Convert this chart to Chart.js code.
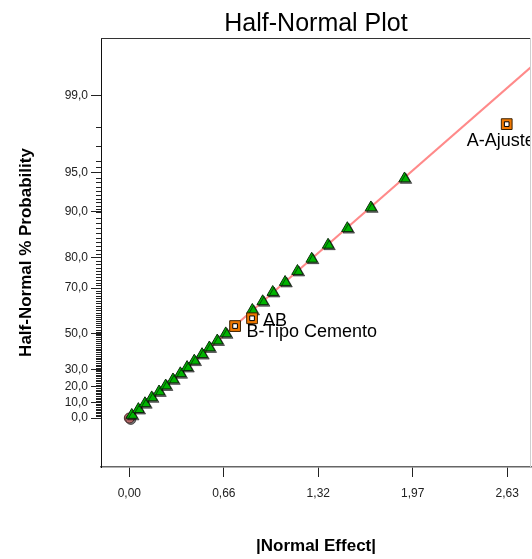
<!DOCTYPE html>
<html>
<head>
<meta charset="utf-8">
<script src="https://cdn.jsdelivr.net/npm/chart.js@4.4.1/dist/chart.umd.min.js"></script>
<style>
  html, body { margin: 0; padding: 0; background: #fff; }
  #wrap { width: 532px; height: 559px; }
</style>
</head>
<body>
<div id="wrap"><canvas id="c" width="532" height="559"></canvas></div>
<script>
// ---------- DATA ----------
// error terms (green triangles): |normal effect| and half-normal % probability
const errorX = [0.017, 0.063, 0.109, 0.156, 0.207, 0.253, 0.304, 0.355, 0.402, 0.452, 0.506, 0.557, 0.612, 0.671,
                0.856, 0.928, 0.998, 1.084, 1.170, 1.269, 1.383, 1.517, 1.681, 1.915];
const errorP = [1.9, 5.6, 9.3, 13.0, 16.7, 20.4, 24.1, 27.8, 31.5, 35.2, 38.9, 42.6, 46.3, 50.0,
                61.1, 64.8, 68.5, 72.2, 75.9, 79.6, 83.3, 87.0, 90.7, 94.4];
// model terms (orange squares)
const modelTerms = ['A-Ajuste', 'B-Tipo Cemento', 'AB'];
const modelX = [2.626, 0.736, 0.854];
const modelP = [98.1, 53.7, 57.4];
// zero point (circle)
const zeroX = [0];
const zeroP = [0];
// fitted half-normal line
const fitLineX = [0, 2.795];
const fitLineP = [0, 99.49];
// axis ticks
const xTickValues = [0, 0.6575, 1.315, 1.9725, 2.63];
const xTickLabels = ['0,00', '0,66', '1,32', '1,97', '2,63'];
const yTickValues = [0, 10, 20, 30, 50, 70, 80, 90, 95, 99];
const yTickLabels = ['0,0', '10,0', '20,0', '30,0', '50,0', '70,0', '80,0', '90,0', '95,0', '99,0'];
const yMinorValues = [];
for (let v = 0; v <= 90; v += 1) yMinorValues.push(v);
for (let v = 90.5; v <= 96; v += 0.5) yMinorValues.push(v);
yMinorValues.push(97, 98);

// ---------- half-normal probability transform ----------
function probit(p) {
  const a = [-3.969683028665376e+01, 2.209460984245205e+02, -2.759285104469687e+02, 1.383577518672690e+02, -3.066479806614716e+01, 2.506628277459239e+00];
  const b = [-5.447609879822406e+01, 1.615858368580409e+02, -1.556989798598866e+02, 6.680131188771972e+01, -1.328068155288572e+01];
  const c = [-7.784894002430293e-03, -3.223964580411365e-01, -2.400758277161838e+00, -2.549732539343734e+00, 4.374664141464968e+00, 2.938163982698783e+00];
  const d = [7.784695709041462e-03, 3.224671290700398e-01, 2.445134137142996e+00, 3.754408360539144e+00];
  const pl = 0.02425, ph = 1 - pl;
  let q, r;
  if (p < pl) {
    q = Math.sqrt(-2 * Math.log(p));
    return (((((c[0]*q+c[1])*q+c[2])*q+c[3])*q+c[4])*q+c[5]) / ((((d[0]*q+d[1])*q+d[2])*q+d[3])*q+1);
  }
  if (p <= ph) {
    q = p - 0.5; r = q * q;
    return (((((a[0]*r+a[1])*r+a[2])*r+a[3])*r+a[4])*r+a[5])*q / (((((b[0]*r+b[1])*r+b[2])*r+b[3])*r+b[4])*r+1);
  }
  q = Math.sqrt(-2 * Math.log(1 - p));
  return -(((((c[0]*q+c[1])*q+c[2])*q+c[3])*q+c[4])*q+c[5]) / ((((d[0]*q+d[1])*q+d[2])*q+d[3])*q+1);
}
function hnz(pct) { return probit(0.5 + pct / 200); }
function pts(xs, ps) { return xs.map((x, i) => ({ x: x, y: hnz(ps[i]) })); }

// ---------- styles ----------
const FONT = '"Liberation Sans", Arial, sans-serif';
const labelStyle = [
  { dx: -40, dy: 17 },
  { dx: 11.5, dy: 6 },
  { dx: 11, dy: 3 }
];

const extras = {
  id: 'extras',
  beforeDatasetDraw(chart, args) {
    const ds = chart.data.datasets[args.index];
    const ctx = chart.ctx;
    ctx.save();
    if (ds.shadow) {
      ctx.shadowColor = 'rgba(0,0,0,0.55)';
      ctx.shadowOffsetX = 1.5;
      ctx.shadowOffsetY = 1.5;
      ctx.shadowBlur = 0.5;
    }
  },
  afterDatasetDraw(chart) { chart.ctx.restore(); },
  afterDatasetsDraw(chart) {
    const ctx = chart.ctx;
    const a = chart.chartArea;
    const meta = chart.getDatasetMeta(1);
    ctx.save();
    ctx.beginPath();
    ctx.rect(a.left, a.top, a.right - a.left, a.bottom - a.top);
    ctx.clip();
    ctx.font = '18px ' + FONT;
    ctx.fillStyle = '#000';
    ctx.textBaseline = 'middle';
    ctx.textAlign = 'left';
    modelTerms.forEach((t, i) => {
      const el = meta.data[i];
      const st = labelStyle[i];
      ctx.fillText(t, el.x + st.dx, el.y + st.dy);
    });
    ctx.restore();
  },
  afterDraw(chart) {
    const ctx = chart.ctx;
    const a = chart.chartArea;
    const ys = chart.scales.y;
    ctx.save();
    // top border
    ctx.strokeStyle = '#333';
    ctx.lineWidth = 1;
    ctx.beginPath();
    ctx.moveTo(a.left, Math.round(a.top) + 0.5);
    ctx.lineTo(a.right, Math.round(a.top) + 0.5);
    ctx.stroke();
    // right border
    ctx.strokeStyle = '#cfcfcf';
    ctx.beginPath();
    ctx.moveTo(Math.round(a.right) - 0.5, a.top);
    ctx.lineTo(Math.round(a.right) - 0.5, a.bottom);
    ctx.stroke();
    // minor ticks
    ctx.strokeStyle = '#222';
    ctx.beginPath();
    yMinorValues.forEach(v => {
      const py = Math.round(ys.getPixelForValue(hnz(v))) + 0.5;
      ctx.moveTo(a.left - 5, py);
      ctx.lineTo(a.left, py);
    });
    ctx.stroke();
    ctx.restore();
  }
};

new Chart(document.getElementById('c'), {
  data: {
    datasets: [
      { // inner part of square markers
        type: 'scatter', data: pts(modelX, modelP), pointStyle: 'rect', pointRadius: 3.3,
        backgroundColor: '#ffffff', borderColor: '#000', borderWidth: 1, pointHoverRadius: 3.3
      },
      { // outer orange square markers
        type: 'scatter', data: pts(modelX, modelP), pointStyle: 'rect', pointRadius: 7.6,
        backgroundColor: '#f07800', borderColor: '#3a2000', borderWidth: 1, pointHoverRadius: 7.6
      },
      { // error terms
        type: 'scatter', data: pts(errorX, errorP), pointStyle: 'triangle', pointRadius: 6.6,
        backgroundColor: '#00b400', borderColor: '#0b2a0b', borderWidth: 1, shadow: true, pointHoverRadius: 6.6
      },
      { // zero point
        type: 'scatter', data: pts(zeroX, zeroP), pointStyle: 'circle', pointRadius: 5,
        backgroundColor: '#b86a6a', borderColor: '#4a2a2a', borderWidth: 1, shadow: true
      },
      { // fitted line
        type: 'line', data: pts(fitLineX, fitLineP), borderColor: '#ff8a8a', borderWidth: 2,
        pointRadius: 0, fill: false, tension: 0
      }
    ]
  },
  options: {
    responsive: false,
    animation: false,
    devicePixelRatio: 1,
    events: [],
    layout: { autoPadding: false, padding: { left: 0, right: 1, top: 0, bottom: 0 } },
    plugins: {
      legend: { display: false },
      tooltip: { enabled: false },
      title: {
        display: true, fullSize: false, text: 'Half-Normal Plot', color: '#000',
        font: { family: FONT, size: 25, weight: 'normal', lineHeight: 1.2 },
        padding: { top: 9.5, bottom: -1.5 }
      }
    },
    scales: {
      x: {
        type: 'linear', position: 'bottom', min: -0.197, max: 2.795,
        afterBuildTicks: s => { s.ticks = xTickValues.map(v => ({ value: v })); },
        afterFit: s => { s.height = 92; s.paddingLeft = 0; s.paddingRight = 0; },
        ticks: {
          autoSkip: false, maxRotation: 0, padding: 9, color: '#222',
          font: { family: FONT, size: 12 },
          callback: (v, i) => xTickLabels[i]
        },
        grid: { drawOnChartArea: false, drawTicks: true, tickLength: 10, tickColor: '#222', tickWidth: 1 },
        border: { display: true, color: '#666', width: 1.5 },
        title: {
          display: true, text: '|Normal Effect|', color: '#000',
          font: { family: FONT, size: 17, weight: 'bold', lineHeight: 1.2 },
          padding: { top: 0, bottom: 2 }
        }
      },
      y: {
        type: 'linear', position: 'left', min: -0.391, max: 3.033,
        afterBuildTicks: s => { s.ticks = yTickValues.map(v => ({ value: hnz(v) })); },
        afterFit: s => { s.width = 101; s.paddingTop = 0; s.paddingBottom = 0; },
        ticks: {
          autoSkip: false, padding: 3, color: '#222',
          font: { family: FONT, size: 12 },
          callback: (v, i) => yTickLabels[i]
        },
        grid: { drawOnChartArea: false, drawTicks: true, tickLength: 10, tickColor: '#222', tickWidth: 1 },
        border: { display: true, color: '#111', width: 1 },
        title: {
          display: true, text: 'Half-Normal % Probability', color: '#000',
          font: { family: FONT, size: 17, weight: 'bold', lineHeight: 1.2 },
          padding: { top: 16, bottom: 0 }
        }
      }
    }
  },
  plugins: [extras]
});
</script>
</body>
</html>
